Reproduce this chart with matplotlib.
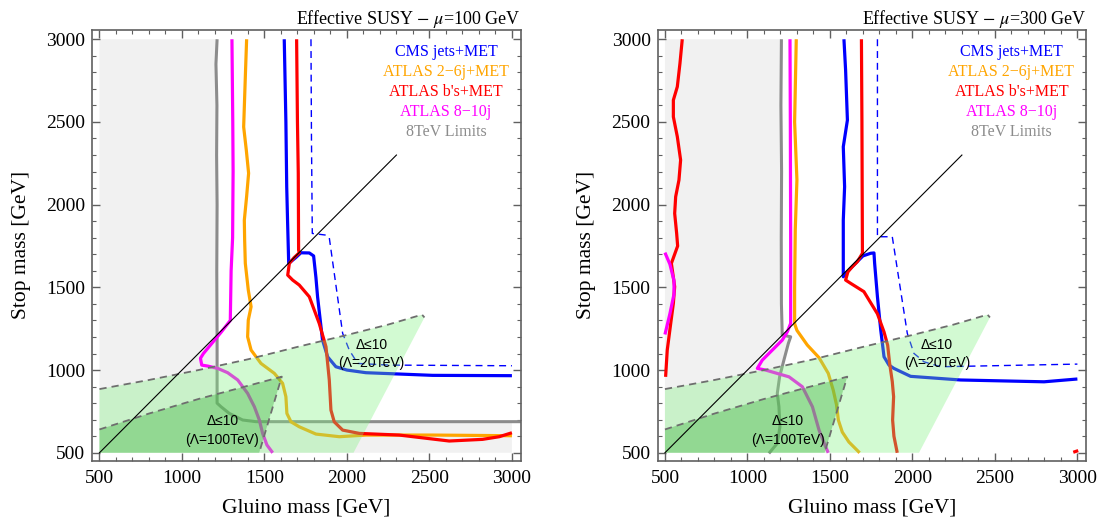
import matplotlib
matplotlib.use("Agg")
import numpy as np
import matplotlib.pyplot as plt
from matplotlib.ticker import MultipleLocator

plt.rcParams['font.family'] = ['Liberation Serif', 'DejaVu Serif']
plt.rcParams['mathtext.fontset'] = 'stix'

# ---------------- exclusion contours, mu = 100 GeV (gluino, stop) ----------------
gray8_100 = [(1213, 3000), (1206, 2850), (1212, 2600), (1210, 2300), (1213, 2000),
             (1211, 1600), (1213, 1200), (1213, 800), (1237, 778), (1287, 738),
             (1368, 698), (1449, 688), (2000, 688), (2500, 688), (3060, 688)]
magenta_100 = [(1303, 3000), (1308, 2500), (1310, 2200), (1307, 1800), (1298, 1600),
               (1293, 1300), (1240, 1232), (1180, 1160), (1130, 1100), (1112, 1071),
               (1120, 1030), (1156, 1024), (1217, 1010), (1277, 984), (1338, 940),
               (1398, 859), (1439, 778), (1469, 698), (1489, 617), (1515, 547), (1550, 500)]
orange_100 = [(1392, 3000), (1385, 2800), (1374, 2470), (1390, 2330), (1404, 2190),
              (1392, 2050), (1378, 1906), (1380, 1785), (1384, 1645), (1402, 1484),
              (1419, 1383), (1402, 1302), (1398, 1201), (1419, 1121), (1479, 1040),
              (1560, 980), (1610, 920), (1630, 839), (1636, 738), (1661, 687),
              (1711, 657), (1812, 613), (1954, 597), (2115, 607), (2519, 607), (3000, 603)]
blue_100 = [(1620, 3000), (1625, 2750), (1630, 2500), (1635, 2108), (1640, 1906),
            (1647, 1645), (1690, 1680), (1721, 1709), (1772, 1708), (1798, 1690),
            (1812, 1560), (1822, 1443), (1852, 1181), (1883, 1080), (1933, 1020),
            (2000, 1000), (2115, 984), (2519, 968), (3000, 966)]
bluedash_100 = [(1782, 3000), (1785, 2400), (1790, 1826), (1872, 1816), (1893, 1800),
                (1974, 1222), (2014, 1121), (2065, 1040), (2257, 1030), (3000, 1026)]
red_100 = [(1695, 3000), (1700, 2500), (1705, 2189), (1707, 1725), (1711, 1709),
           (1680, 1680), (1651, 1645), (1641, 1574), (1671, 1544), (1711, 1514),
           (1772, 1443), (1832, 1282), (1873, 1141), (1893, 940), (1903, 758),
           (1923, 687), (1974, 637), (2075, 617), (2317, 607), (2620, 571),
           (2822, 581), (2923, 597), (3000, 621)]

# ---------------- exclusion contours, mu = 300 GeV ----------------
gray8_300 = [(1206, 3000), (1203, 2600), (1207, 2200), (1205, 1800), (1206, 1400),
             (1211, 1212), (1262, 1201), (1248, 1161), (1221, 1060), (1195, 959),
             (1181, 859), (1191, 778), (1197, 657), (1181, 557), (1130, 496)]
magenta_300 = [(1258, 3000), (1260, 2500), (1262, 1785), (1262, 1282), (1242, 1232),
               (1211, 1181), (1151, 1121), (1090, 1060), (1060, 1010), (1110, 1000),
               (1252, 959), (1333, 899), (1394, 778), (1434, 637), (1474, 536), (1490, 500)]
magenta_300_low = [(500, 1710), (530, 1640), (555, 1540), (555, 1460), (530, 1340), (500, 1215)]
orange_300 = [(1296, 3000), (1286, 2500), (1300, 2150), (1290, 1850), (1286, 1500),
              (1286, 1280), (1300, 1240), (1363, 1151), (1434, 1075), (1490, 980),
              (1520, 879), (1540, 790), (1551, 698), (1575, 625), (1615, 565),
              (1650, 530), (1680, 500)]
blue_300 = [(1585, 3000), (1595, 2814), (1606, 2511), (1581, 2350), (1589, 2108),
            (1581, 1906), (1581, 1705), (1581, 1564), (1620, 1610), (1700, 1690),
            (1747, 1706), (1767, 1708), (1771, 1645), (1788, 1443), (1808, 1242),
            (1828, 1080), (1858, 1030), (1888, 1010), (1989, 962), (2292, 940),
            (2798, 929), (3000, 946)]
bluedash_300 = [(1788, 3000), (1788, 1806), (1878, 1806), (1969, 1222), (2009, 1101),
                (2070, 1050), (2171, 1020), (3000, 1036)]
red_300 = [(1691, 3000), (1694, 2500), (1697, 1706), (1666, 1655), (1636, 1625),
           (1609, 1594), (1595, 1544), (1626, 1524), (1706, 1474), (1788, 1340),
           (1828, 1230), (1850, 1150), (1862, 1040), (1878, 930), (1886, 839),
           (1880, 698), (1888, 600), (1908, 500)]
red_300_low = [(605, 3000), (591, 2854), (575, 2713), (551, 2632), (551, 2531),
               (575, 2411), (595, 2270), (585, 2149), (565, 2048), (559, 1947),
               (571, 1826), (577, 1750), (539, 1645), (559, 1504), (551, 1403),
               (535, 1282), (514, 1121), (504, 959)]
red_300_corner = [(2975, 503), (3005, 513)]

# ---------------- fine-tuning regions (shared by both panels) ----------------
lam20_region = [(500, 885), (800, 940), (1100, 1000), (1400, 1065), (1700, 1140),
                (2000, 1212), (2250, 1275), (2455, 1335), (2470, 1318), (2040, 500), (500, 500)]
lam100_region = [(500, 641), (800, 737), (1100, 825), (1400, 905), (1605, 960),
                 (1468, 500), (500, 500)]

diag_line = [(500, 500), (2300, 2300)]

legend_labels = ["CMS jets+MET", "ATLAS 2\u22126j+MET", "ATLAS b's+MET",
                 "ATLAS 8\u221210j", "8TeV Limits"]
legend_colors = ["#0000ff", "#ffa500", "#ff0000", "#ff00ff", "#8c8c8c"]
legend_y = [2924, 2803, 2683, 2562, 2441]
legend_x = 2600

mu_values = [100, 300]
ticks = [500, 1000, 1500, 2000, 2500, 3000]

C_BLUE, C_ORANGE, C_RED, C_MAG, C_GRAY = legend_colors

panels = [
    dict(mu=mu_values[0], gray=gray8_100,
         curves=[(magenta_100, C_MAG), (orange_100, C_ORANGE), (blue_100, C_BLUE),
                 (red_100, C_RED)],
         dashed=bluedash_100),
    dict(mu=mu_values[1], gray=gray8_300,
         curves=[(red_300_low, C_RED), (magenta_300_low, C_MAG), (magenta_300, C_MAG),
                 (orange_300, C_ORANGE), (blue_300, C_BLUE), (red_300, C_RED),
                 (red_300_corner, C_RED)],
         dashed=bluedash_300),
]

fig = plt.figure(figsize=(11.01, 5.17), dpi=100)
axes_rects = [[0.0836, 0.1089, 0.3896, 0.8331], [0.5972, 0.1089, 0.3896, 0.8331]]

frame_col = "#606060"
sans = ['Liberation Sans', 'DejaVu Sans']

for rect, p in zip(axes_rects, panels):
    ax = fig.add_axes(rect)
    ax.set_xlim(455, 3055)
    ax.set_ylim(452, 3056)

    # 8 TeV excluded area (light gray) bounded by the gray contour
    g = np.array(p["gray"], dtype=float)
    gx = np.clip(g[:, 0], 500, 3000)
    gy = np.clip(g[:, 1], 500, 3000)
    fx = np.concatenate([[500, 500], gx, [gx[-1]]])
    fy = np.concatenate([[500, 3000], gy, [500]])
    ax.fill(fx, fy, color="#f1f1f1", lw=0, zorder=1)

    # gray 8 TeV contour
    ax.plot(g[:, 0], g[:, 1], color=C_GRAY, lw=2.2, zorder=2, solid_capstyle="butt")

    for pts, col in p["curves"]:
        a = np.array(pts, dtype=float)
        ax.plot(a[:, 0], a[:, 1], color=col, lw=2.3, zorder=2,
                solid_joinstyle="round", solid_capstyle="butt")

    d = np.array(p["dashed"], dtype=float)
    ax.plot(d[:, 0], d[:, 1], color=C_BLUE, lw=1.0, ls=(0, (5, 3.5)), zorder=2)

    # fine-tuning regions drawn translucently on top
    r20 = np.array(lam20_region, dtype=float)
    r100 = np.array(lam100_region, dtype=float)
    ax.fill(r20[:, 0], r20[:, 1], color=(0.5, 0.95, 0.5), alpha=0.35, lw=0, zorder=3)
    ax.fill(r100[:, 0], r100[:, 1], color=(0.25, 0.7, 0.25), alpha=0.4, lw=0, zorder=3)
    ax.plot(r20[:-2, 0], r20[:-2, 1], color="#6e6e6e", lw=1.3, ls=(0, (4, 2.8)), zorder=4)
    ax.plot(r100[:-1, 0], r100[:-1, 1], color="#6e6e6e", lw=1.3, ls=(0, (4, 2.8)), zorder=4)

    dl = np.array(diag_line, dtype=float)
    ax.plot(dl[:, 0], dl[:, 1], color="black", lw=0.8, zorder=5)

    ax.text(1245, 690, "\u0394\u226410", family=sans, fontsize=10, ha="center", va="center", zorder=6)
    ax.text(1245, 577, "(\u039b=100TeV)", family=sans, fontsize=10, ha="center", va="center", zorder=6)
    ax.text(2148, 1151, "\u0394\u226410", family=sans, fontsize=10, ha="center", va="center", zorder=6)
    ax.text(2148, 1040, "(\u039b=20TeV)", family=sans, fontsize=10, ha="center", va="center", zorder=6)

    for lab, col, yy in zip(legend_labels, legend_colors, legend_y):
        ax.text(legend_x, yy, lab, color=col, fontsize=11.5, ha="center", va="center", zorder=6)

    ax.set_title(r"Effective SUSY $-$ $\mu$=%d GeV" % p["mu"], loc="right",
                 fontsize=13, pad=3)
    ax.set_xlabel("Gluino mass [GeV]", fontsize=15.5, labelpad=8)
    ax.set_ylabel("Stop mass [GeV]", fontsize=15.5, labelpad=11)

    ax.set_xticks(ticks)
    ax.set_yticks(ticks)
    ax.xaxis.set_minor_locator(MultipleLocator(100))
    ax.yaxis.set_minor_locator(MultipleLocator(100))
    ax.tick_params(which="both", direction="in", top=True, right=True, color=frame_col)
    ax.tick_params(which="major", length=6, width=1.0, labelsize=14)
    ax.tick_params(axis="x", which="major", pad=7)
    ax.tick_params(axis="y", which="major", pad=5)
    ax.tick_params(which="minor", length=3.2, width=0.8)
    for s in ax.spines.values():
        s.set_color(frame_col)
        s.set_linewidth(1.2)

fig.savefig("out.png", dpi=100)
